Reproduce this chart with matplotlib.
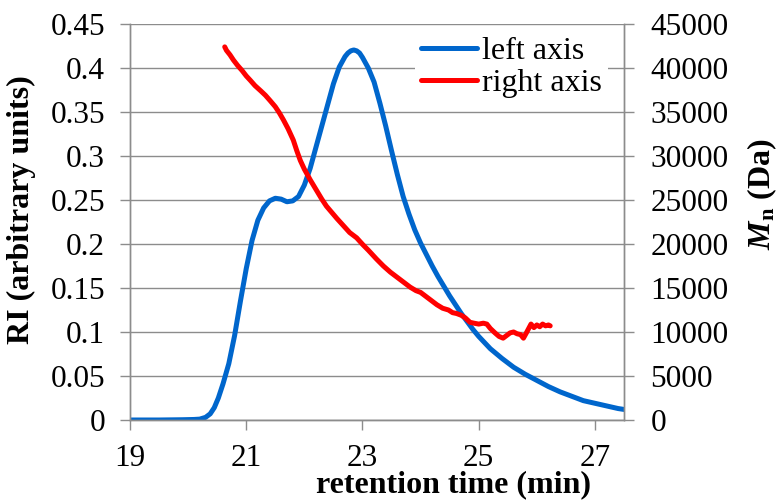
import numpy as np
import matplotlib
matplotlib.use("Agg")
import matplotlib.pyplot as plt

plt.rcParams['font.family'] = ['Liberation Serif', 'DejaVu Serif']
plt.rcParams['mathtext.fontset'] = 'custom'
plt.rcParams['mathtext.rm'] = 'Liberation Serif'
plt.rcParams['mathtext.it'] = 'Liberation Serif:italic'
plt.rcParams['mathtext.bf'] = 'Liberation Serif:bold'
plt.rcParams['mathtext.bfit'] = 'Liberation Serif:italic:bold'

# RI trace (left axis)
ri_time = [19.0, 19.5, 19.9, 20.1, 20.2, 20.3, 20.38, 20.45, 20.52, 20.6,
           20.7, 20.8, 20.9, 21.0, 21.1, 21.2, 21.3, 21.4, 21.5, 21.6,
           21.7, 21.8, 21.9, 22.0, 22.1, 22.2, 22.3, 22.4, 22.5, 22.6,
           22.7, 22.75, 22.8, 22.85, 22.9, 22.95, 23.0, 23.1, 23.2, 23.3,
           23.4, 23.5, 23.6, 23.7, 23.8, 23.9, 24.0, 24.1, 24.2, 24.3,
           24.4, 24.5, 24.6, 24.7, 24.8, 24.9, 25.0, 25.2, 25.4, 25.6,
           25.8, 26.0, 26.2, 26.4, 26.6, 26.8, 27.0, 27.2, 27.4, 27.5]
ri_value = [0.0, 0.0, 0.0003, 0.0006, 0.001, 0.003, 0.007, 0.014, 0.025, 0.041,
            0.064, 0.096, 0.135, 0.172, 0.204, 0.227, 0.241, 0.249, 0.252, 0.251,
            0.248, 0.249, 0.254, 0.267, 0.286, 0.31, 0.334, 0.358, 0.382, 0.401,
            0.413, 0.417, 0.4195, 0.4205, 0.4195, 0.417, 0.412, 0.4, 0.384, 0.36,
            0.334, 0.306, 0.279, 0.254, 0.234, 0.216, 0.201, 0.188, 0.175, 0.163,
            0.152, 0.141, 0.131, 0.121, 0.112, 0.103, 0.095, 0.081, 0.07, 0.06,
            0.052, 0.045, 0.038, 0.032, 0.027, 0.022, 0.019, 0.016, 0.013, 0.012]

# Mn trace (right axis)
mn_time = [20.63, 20.66, 20.72, 20.78, 20.85, 20.93, 21.0, 21.07, 21.15, 21.25,
           21.33, 21.41, 21.5, 21.57, 21.64, 21.72, 21.81, 21.87, 21.93, 22.0,
           22.1, 22.2, 22.3, 22.38, 22.47, 22.56, 22.67, 22.78, 22.9, 23.01,
           23.1, 23.24, 23.36, 23.48, 23.6, 23.72, 23.82, 23.92, 24.0, 24.1,
           24.2, 24.28, 24.38, 24.48, 24.55, 24.62, 24.7, 24.77, 24.85, 24.92,
           25.0, 25.08, 25.14, 25.2, 25.28, 25.35, 25.42, 25.48, 25.54, 25.6,
           25.66, 25.72, 25.77, 25.82, 25.86, 25.9, 25.95, 26.0, 26.05, 26.1,
           26.15, 26.2, 26.23]
mn_value = [42400, 42000, 41500, 40900, 40300, 39700, 39100, 38600, 38000, 37400,
            36900, 36300, 35600, 34900, 34100, 33100, 31800, 30600, 29500, 28500,
            27300, 26200, 25100, 24300, 23600, 22900, 22100, 21300, 20700, 19900,
            19300, 18300, 17500, 16800, 16200, 15600, 15100, 14700, 14500, 14000,
            13500, 13100, 12700, 12500, 12200, 12100, 11900, 11600, 11100, 11000,
            10900, 11000, 10900, 10400, 9900, 9500, 9300, 9600, 9900, 10000,
            9800, 9700, 9300, 9900, 10400, 10900, 10500, 10800, 10600, 10900,
            10700, 10800, 10700]

x_ticks = [19, 21, 23, 25, 27]
left_ticks = [0, 0.05, 0.1, 0.15, 0.2, 0.25, 0.3, 0.35, 0.4, 0.45]
left_labels = ['0', '0.05', '0.1', '0.15', '0.2', '0.25', '0.3', '0.35', '0.4', '0.45']
right_ticks = [0, 5000, 10000, 15000, 20000, 25000, 30000, 35000, 40000, 45000]

grid_col = '#8c8c8c'
fs = 22.5
fs_lab = 23

fig = plt.figure(figsize=(7.79, 5), dpi=100)
ax = fig.add_axes([130 / 779, 80 / 500, 494 / 779, 396 / 500])
ax2 = ax.twinx()

l1, = ax.plot(ri_time, ri_value, color='#0066cc', lw=3.6, solid_joinstyle='round',
              solid_capstyle='round', label='left axis')
l2, = ax2.plot(mn_time, mn_value, color='#ff0000', lw=3.6, solid_joinstyle='round',
               solid_capstyle='round', label='right axis')

ax.set_xlim(19, 27.5)
ax.set_ylim(0, 0.45)
ax2.set_ylim(0, 45000)
ax.set_xticks(x_ticks)
ax.set_yticks(left_ticks)
ax.set_yticklabels(left_labels)
ax2.set_yticks(right_ticks)

ax.yaxis.grid(True, color=grid_col, lw=1)
ax.set_axisbelow(True)

for a in (ax, ax2):
    for s in a.spines.values():
        s.set_color(grid_col)
        s.set_linewidth(1)
    a.spines['top'].set_visible(False)
    a.tick_params(colors=grid_col, labelcolor='black', labelsize=fs, length=7, width=1)
ax.tick_params(axis='y', pad=11)
ax.tick_params(axis='x', pad=10)
ax2.tick_params(axis='y', pad=12)

ax.set_ylabel('RI (arbitrary units)', fontsize=fs_lab, fontweight='bold')
ax.yaxis.set_label_coords(-0.19, 0.53)
ax.set_xlabel('retention time (min)', fontsize=fs_lab, fontweight='bold')
ax.xaxis.set_label_coords(0.655, -0.128)
ax2.set_ylabel(r'$\mathbfit{M}_\mathbf{n}$ (Da)', fontsize=fs_lab, fontweight='bold')
ax2.yaxis.set_label_coords(1.245, 0.57)

leg = ax2.legend(handles=[l1, l2], loc='upper right', bbox_to_anchor=(0.968, 0.985),
                 fontsize=fs_lab, frameon=True, handlelength=1.75, handletextpad=0.15,
                 labelspacing=0.1, borderpad=0.2, borderaxespad=0)
leg.get_frame().set_facecolor('white')
leg.get_frame().set_edgecolor('none')
leg.get_frame().set_alpha(1)

fig.savefig('out.png', dpi=100)
